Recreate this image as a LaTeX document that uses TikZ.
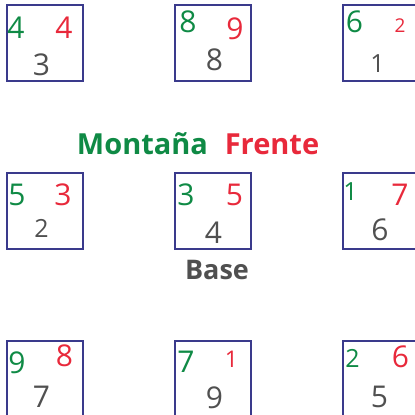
\documentclass[tikz,border=0pt]{standalone}
\usepackage{fontspec}
\setmainfont{Open Sans}
\definecolor{boxblue}{HTML}{3A3A8C}
\definecolor{mgreen}{HTML}{0F8A45}
\definecolor{mred}{HTML}{E8293B}
\definecolor{mgray}{HTML}{505050}
\tikzset{
  cell/.style={draw=boxblue, line width=1.8pt, minimum width=76pt, minimum height=76pt, inner sep=0pt},
  dig/.style={inner sep=0pt, anchor=base, font=\fontsize{30}{32}\selectfont},
  sm/.style={font=\fontsize{#1}{#1}\selectfont},
  gd/.style={dig, text=mgreen},
  rd/.style={dig, text=mred},
  kd/.style={dig, text=mgray},
  lbl/.style={inner sep=0pt, anchor=base, font=\fontsize{29}{32}\selectfont\bfseries}
}
\begin{document}
\begin{tikzpicture}[x=1pt,y=-1pt]
\useasboundingbox (0,0) rectangle (415,415);
\clip (0,0) rectangle (415,415);
% boxes
\node[cell] (b11) at (45,43) {};
\node[cell] (b12) at (213,43) {};
\node[cell] (b13) at (381,43) {};
\node[cell] (b21) at (45,211) {};
\node[cell] (b22) at (213,211) {};
\node[cell] (b23) at (381,211) {};
\node[cell] (b31) at (45,379) {};
\node[cell] (b32) at (213,379) {};
\node[cell] (b33) at (381,379) {};
% row 1
\node[gd] (g11) at (16,38) {4};
\node[rd] (r11) at (64,38) {4};
\node[kd] (k11) at (41.5,75) {3};
\node[gd] (g12) at (188,32) {8};
\node[rd] (r12) at (235,39) {9};
\node[kd] (k12) at (214.5,70) {8};
\node[gd] (g13) at (354.5,32) {6};
\node[rd,sm=19] (r13) at (400,32) {2};
\node[kd,sm=25] (k13) at (377.5,72) {1};
% row 2
\node[gd] (g21) at (17,205) {5};
\node[rd] (r21) at (63,205) {3};
\node[kd,sm=25] (k21) at (41.5,237) {2};
\node[gd] (g22) at (186,205) {3};
\node[rd] (r22) at (234.5,205) {5};
\node[kd] (k22) at (213.5,243) {4};
\node[gd,sm=25] (g23) at (350.5,200) {1};
\node[rd] (r23) at (400,205) {7};
\node[kd] (k23) at (380,240) {6};
% row 3
\node[gd] (g31) at (17,373) {9};
\node[rd] (r31) at (64.5,366) {8};
\node[kd] (k31) at (41.5,407) {7};
\node[gd] (g32) at (186,372) {7};
\node[rd,sm=23] (r32) at (231.5,367) {1};
\node[kd] (k32) at (214.5,408) {9};
\node[gd,sm=25] (g33) at (352.5,367) {2};
\node[rd] (r33) at (400.5,367) {6};
\node[kd] (k33) at (379.5,407) {5};
% labels
\node[lbl, text=mgreen] (mont) at (142.5,154) {Montaña};
\node[lbl, text=mred] (fren) at (272,154) {Frente};
\node[lbl, text=mgray, font=\fontsize{27}{30}\selectfont\bfseries] (base) at (217,279) {Base};
\end{tikzpicture}
\end{document}
